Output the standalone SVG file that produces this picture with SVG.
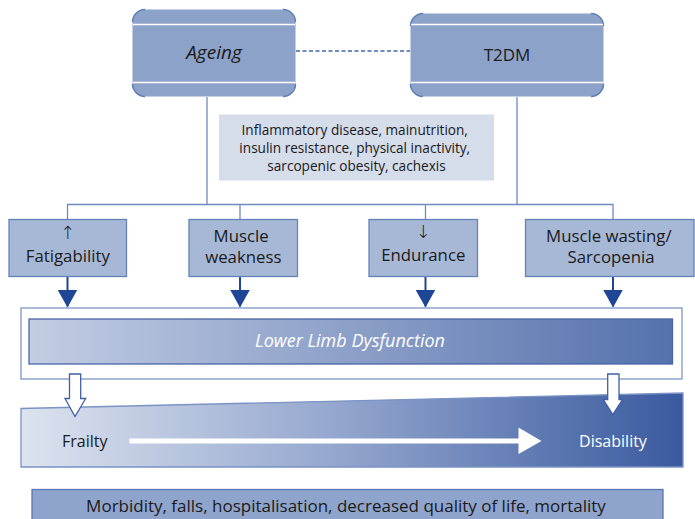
<svg xmlns="http://www.w3.org/2000/svg" width="695" height="519" viewBox="0 0 695 519">
  <defs>
    <linearGradient id="limbGrad" x1="0" y1="0" x2="1" y2="0">
      <stop offset="0" stop-color="#c3cde3"/>
      <stop offset="1" stop-color="#5572ad"/>
    </linearGradient>
    <linearGradient id="slopeGrad" x1="0" y1="0" x2="1" y2="0">
      <stop offset="0" stop-color="#dde3ef"/>
      <stop offset="0.45" stop-color="#98aad0"/>
      <stop offset="1" stop-color="#3a5a9f"/>
    </linearGradient>
    <marker id="tri" viewBox="0 0 18 20" refX="17" refY="10" markerWidth="18" markerHeight="20" markerUnits="userSpaceOnUse" orient="auto">
      <path d="M0,0 L18,10 L0,20 Z" fill="#1e4596"/>
    </marker>
  </defs>
  <style>
    .txt { font-family: "Open Sans", "Liberation Sans", sans-serif; fill: #1a1a1a; }
    .arrowglyph { font-family: "DejaVu Sans", sans-serif; font-size: 18px; font-weight: 300; }
    .head { fill: #8ca2c9; }
    .corner { fill: none; stroke: #5f7fb8; stroke-width: 1.5; }
    .band { stroke: #ffffff; stroke-width: 1.5; }
    .box { fill: #a7b8d6; stroke: #6382bb; stroke-width: 1.3; }
    .wire { fill: none; stroke: #6f8cc0; stroke-width: 1.3; }
    .drop { fill: none; stroke: #1e4596; stroke-width: 2; }
    .hollow { fill: #ffffff; stroke: #3f5fa6; stroke-width: 1.3; }
  </style>

  <!-- connectors -->
  <g id="connectors">
    <line x1="296" y1="51" x2="410" y2="51" stroke="#6f8cc0" stroke-width="2" stroke-dasharray="4 2.5"/>
    <path class="wire" d="M207,97 V204.5 M517,97 V204.5 M67.5,219 V204.5 H613 V219 M240,204.5 V219 M425.5,204.5 V219"/>
    <line class="drop" x1="67.5" y1="277" x2="67.5" y2="306.5" marker-end="url(#tri)"/>
    <line class="drop" x1="240" y1="277" x2="240" y2="306.5" marker-end="url(#tri)"/>
    <line class="drop" x1="425.5" y1="277" x2="425.5" y2="306.5" marker-end="url(#tri)"/>
    <line class="drop" x1="613" y1="277" x2="613" y2="306.5" marker-end="url(#tri)"/>
  </g>

  <!-- Ageing -->
  <g id="ageing">
    <rect class="head" x="132.5" y="9.5" width="163" height="87" rx="12"/>
    <path class="corner" d="M132.5,22 A12.5,12.5 0 0 1 145,9.5 M283,9.5 A12.5,12.5 0 0 1 295.5,22 M295.5,84 A12.5,12.5 0 0 1 283,96.5 M145,96.5 A12.5,12.5 0 0 1 132.5,84"/>
    <line class="band" x1="133" y1="24.5" x2="295" y2="24.5"/>
    <line class="band" x1="133" y1="82.5" x2="295" y2="82.5"/>
    <text class="txt" x="214" y="59" font-size="19" font-style="italic" text-anchor="middle">Ageing</text>
  </g>

  <!-- T2DM -->
  <g id="t2dm">
    <rect class="head" x="410.5" y="13.5" width="193" height="83" rx="12"/>
    <path class="corner" d="M410.5,26 A12.5,12.5 0 0 1 423,13.5 M591,13.5 A12.5,12.5 0 0 1 603.5,26 M603.5,84 A12.5,12.5 0 0 1 591,96.5 M423,96.5 A12.5,12.5 0 0 1 410.5,84"/>
    <line class="band" x1="411" y1="24.5" x2="603" y2="24.5"/>
    <line class="band" x1="411" y1="82.5" x2="603" y2="82.5"/>
    <text class="txt" x="507" y="61" font-size="17" text-anchor="middle">T2DM</text>
  </g>

  <!-- contributing conditions -->
  <g id="conditions">
    <rect x="219" y="114.5" width="275" height="66" fill="#d5dcea"/>
    <text class="txt" font-size="13.6" text-anchor="middle">
      <tspan x="356.5" y="135">Inflammatory disease, mainutrition,</tspan>
      <tspan x="356.5" y="153">insulin resistance, physical inactivity,</tspan>
      <tspan x="356.5" y="171">sarcopenic obesity, cachexis</tspan>
    </text>
  </g>

  <!-- muscle effects -->
  <g id="fatigability">
    <rect class="box" x="9" y="219.5" width="117.5" height="57"/>
    <text class="txt arrowglyph" x="67.8" y="239" text-anchor="middle">↑</text>
    <text class="txt" x="67.8" y="262" font-size="16.8" text-anchor="middle">Fatigability</text>
  </g>
  <g id="weakness">
    <rect class="box" x="189" y="219.5" width="108.5" height="57"/>
    <text class="txt" font-size="16.8" text-anchor="middle">
      <tspan x="243.3" y="242">Muscle</tspan>
      <tspan x="243.3" y="263">weakness</tspan>
    </text>
  </g>
  <g id="endurance">
    <rect class="box" x="369" y="219.5" width="108.5" height="57"/>
    <text class="txt arrowglyph" x="423.3" y="238" text-anchor="middle">↓</text>
    <text class="txt" x="423.3" y="261" font-size="16.8" text-anchor="middle">Endurance</text>
  </g>
  <g id="wasting">
    <rect class="box" x="525.5" y="219.5" width="168.5" height="57"/>
    <text class="txt" font-size="16.8" text-anchor="middle">
      <tspan x="611" y="242">Muscle wasting/</tspan>
      <tspan x="611" y="263">Sarcopenia</tspan>
    </text>
  </g>

  <!-- lower limb dysfunction -->
  <g id="lower-limb">
    <rect x="21" y="308" width="661" height="71" fill="#ffffff" stroke="#7d95c6" stroke-width="1.3"/>
    <rect x="29" y="319" width="643.5" height="45" fill="url(#limbGrad)" stroke="#4a64a8" stroke-width="1.3"/>
    <text x="350" y="347" font-family="Open Sans, Liberation Sans, sans-serif" font-size="18" font-style="italic" fill="#ffffff" text-anchor="middle">Lower Limb Dysfunction</text>
  </g>

  <!-- frailty to disability -->
  <g id="progression">
    <polygon points="21,408.5 683,393 683,467 21,467" fill="url(#slopeGrad)" stroke="#7a93c4" stroke-width="1.3"/>
    <text class="txt" x="62" y="447" font-size="16">Frailty</text>
    <path d="M129.5,438.5 H518.5 V427.5 L541.5,441 L518.5,454 V443.5 H129.5 Z" fill="#ffffff"/>
    <text x="613" y="447" font-family="Open Sans, Liberation Sans, sans-serif" font-size="16" fill="#ffffff" text-anchor="middle">Disability</text>
  </g>

  <!-- hollow arrows into the progression bar -->
  <g id="hollow-arrows">
    <path class="hollow" d="M69.5,374 H80.7 V398.5 H85.7 L75,416.5 L65,398.5 H69.5 Z"/>
    <path class="hollow" d="M607.7,374 H619 V399.5 H622.5 L612.8,414.5 L603.3,399.5 H607.7 Z"/>
  </g>

  <!-- outcomes -->
  <g id="outcomes">
    <rect x="32" y="489.5" width="631" height="40" fill="#8fa4cc" stroke="#5877b5" stroke-width="1.3"/>
    <text class="txt" x="346" y="512" font-size="17" text-anchor="middle">Morbidity, falls, hospitalisation, decreased quality of life, mortality</text>
  </g>
</svg>
